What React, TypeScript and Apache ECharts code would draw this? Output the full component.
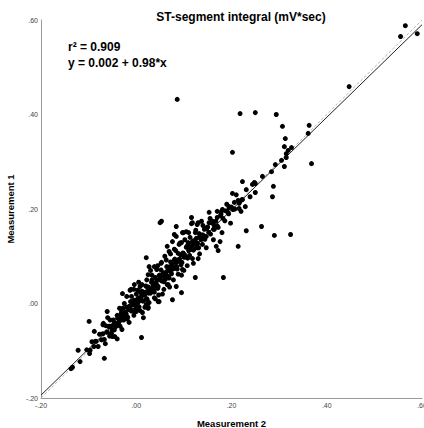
import React, { useEffect, useRef } from "react";
import * as echarts from "echarts";

const title = "ST-segment integral (mV*sec)";
const xName = "Measurement 2";
const yName = "Measurement 1";
const r2Text = "r\u00b2 = 0.909";
const fitText = "y = 0.002 + 0.98*x";
const intercept = 0.002;
const slope = 0.98;
const axisMin = -0.2;
const axisMax = 0.6;
const axisStep = 0.2;

// scattered / outlying points
const outerPoints: number[][] = [
  [0.565, 0.588], [0.555, 0.565], [0.590, 0.571], [0.447, 0.459], [0.086, 0.432],
  [0.218, 0.402], [0.250, 0.404], [0.294, 0.400], [0.307, 0.375], [0.363, 0.377],
  [0.361, 0.360], [0.313, 0.349], [0.311, 0.332], [0.326, 0.330], [0.319, 0.324],
  [0.315, 0.317], [0.315, 0.309], [0.305, 0.303], [0.292, 0.294], [0.311, 0.290],
  [0.368, 0.296], [0.284, 0.279], [0.265, 0.269], [0.223, 0.258], [0.250, 0.254],
  [0.244, 0.252], [0.288, 0.248], [0.231, 0.241], [0.250, 0.235], [0.239, 0.226],
  [0.286, 0.226], [0.223, 0.220], [0.218, 0.216], [0.229, 0.205], [0.216, 0.201],
  [0.231, 0.154], [0.263, 0.163], [0.290, 0.144], [0.324, 0.146], [0.248, 0.256],
  [0.202, 0.320], [0.202, 0.233], [0.206, 0.214], [0.195, 0.205], [0.216, 0.212],
  [0.181, 0.199], [0.179, 0.195], [0.191, 0.195], [0.153, 0.193], [0.053, 0.174],
  [0.116, 0.182], [0.118, 0.171], [0.137, 0.174], [0.128, 0.167], [0.153, 0.171],
  [0.160, 0.174], [0.170, 0.182], [0.084, 0.163], [0.097, 0.150], [0.105, 0.152],
  [0.080, 0.146], [0.176, 0.131], [0.065, 0.121], [0.214, 0.121], [0.168, 0.121],
  [0.172, 0.112], [0.143, 0.157], [0.149, 0.161], [0.164, 0.157], [0.147, 0.142],
  [0.132, 0.140], [0.118, 0.131], [0.126, 0.125], [0.111, 0.121], [0.139, 0.125],
  [0.124, 0.055], [0.183, 0.055], [0.050, 0.171], [0.116, 0.169], [0.130, 0.171],
  [0.099, 0.150], [0.084, 0.142], [0.124, 0.150], [0.076, 0.131], [0.095, 0.129],
  [0.109, 0.129], [0.120, 0.133], [0.069, 0.110], [0.021, 0.097], [0.053, 0.087],
  [0.027, 0.078], [0.038, 0.078], [0.025, 0.061], [-0.004, 0.040], [-0.029, 0.021],
  [-0.011, 0.030], [0.065, 0.040], [0.084, 0.036], [0.095, 0.023], [0.076, 0.008],
  [0.048, 0.004], [0.008, 0.036], [0.021, -0.002], [0.013, -0.019], [-0.015, -0.013],
  [0.000, -0.013], [-0.013, 0.028], [-0.061, -0.017], [-0.099, -0.038], [-0.069, -0.042],
  [-0.088, -0.059], [-0.050, -0.070], [-0.086, -0.080], [0.011, -0.072], [-0.122, -0.099],
  [-0.097, -0.099], [-0.067, -0.116], [-0.118, -0.123], [-0.137, -0.138], [-0.134, -0.135],
  [0.025, -0.008], [0.000, -0.017], [0.023, 0.008], [0.046, 0.004],
  [-0.020, 0.015], [0.005, 0.045], [0.030, 0.070], [0.060, 0.100], [0.090, 0.125],
  [0.040, 0.010], [0.070, 0.035], [0.100, 0.070], [-0.040, -0.075], [0.015, -0.030],
  [0.055, 0.020], [0.110, 0.150], [0.130, 0.095], [-0.060, -0.030], [0.080, 0.115],
  [0.045, 0.080], [0.120, 0.085], [-0.005, 0.030], [0.025, -0.010], [0.095, 0.060],
];

// dense band along the fit line
const bandPointsA: number[][] = [
  [-0.104, -0.098], [-0.098, -0.106], [-0.093, -0.081], [-0.089, -0.091], [-0.084, -0.080],
  [-0.080, -0.091], [-0.077, -0.065], [-0.073, -0.077], [-0.070, -0.064], [-0.067, -0.076],
  [-0.064, -0.047], [-0.061, -0.061], [-0.058, -0.049], [-0.056, -0.069], [-0.053, -0.048],
  [-0.051, -0.056], [-0.048, -0.035], [-0.046, -0.056], [-0.044, -0.041], [-0.042, -0.044],
  [-0.040, -0.025], [-0.038, -0.045], [-0.036, -0.029], [-0.034, -0.048], [-0.032, -0.022],
  [-0.030, -0.031], [-0.028, -0.010], [-0.026, -0.034], [-0.024, -0.020], [-0.022, -0.026],
  [-0.020, -0.008], [-0.018, -0.029], [-0.016, -0.009], [-0.014, -0.013], [-0.012, 0.004],
  [-0.010, -0.016], [-0.008, -0.003], [-0.006, -0.016], [-0.004, 0.007], [-0.002, -0.004],
  [0.000, 0.020], [0.002, -0.005], [0.004, 0.012], [0.006, -0.007], [0.008, 0.012],
  [0.010, 0.007], [0.012, 0.026], [0.014, 0.005], [0.016, 0.022], [0.018, 0.018],
  [0.020, 0.037], [0.022, 0.010], [0.024, 0.033], [0.026, 0.022], [0.028, 0.031],
  [0.030, 0.022], [0.032, 0.045], [0.034, 0.033], [0.036, 0.044], [0.038, 0.024],
  [0.040, 0.055], [0.042, 0.037], [0.044, 0.049], [0.046, 0.036], [0.048, 0.059],
  [0.050, 0.051], [0.052, 0.071], [0.054, 0.048], [0.056, 0.063], [0.058, 0.046],
  [0.060, 0.064], [0.062, 0.060], [0.064, 0.078], [0.066, 0.058], [0.068, 0.077],
  [0.070, 0.070], [0.072, 0.088], [0.074, 0.063], [0.076, 0.082], [0.078, 0.074],
  [0.080, 0.092], [0.082, 0.075], [0.084, 0.087], [0.086, 0.073], [0.088, 0.106],
  [0.090, 0.089], [0.093, 0.103], [0.096, 0.087], [0.099, 0.106], [0.102, 0.098],
  [0.105, 0.119], [0.108, 0.096], [0.111, 0.116], [0.114, 0.114], [0.117, 0.129],
  [0.120, 0.113], [0.124, 0.132], [0.128, 0.118], [0.132, 0.148], [0.136, 0.135],
  [0.140, 0.145], [0.144, 0.136], [0.148, 0.159], [0.152, 0.151], [0.157, 0.171],
  [0.162, 0.157], [0.167, 0.174], [0.172, 0.161], [0.177, 0.186], [0.182, 0.180],
  [0.188, 0.196], [0.194, 0.190], [0.200, 0.204], [0.207, 0.200], [0.214, 0.218],
  [0.222, 0.220],
];

const bandPointsB: number[][] = [
  [-0.062, -0.060], [-0.057, -0.048], [-0.052, -0.063], [-0.047, -0.043], [-0.043, -0.049],
  [-0.039, -0.031], [-0.035, -0.037], [-0.031, -0.018], [-0.027, -0.035], [-0.023, -0.018],
  [-0.019, -0.033], [-0.015, -0.006], [-0.011, -0.014], [-0.007, 0.005], [-0.003, -0.013],
  [0.001, 0.007], [0.005, 0.004], [0.009, 0.023], [0.013, 0.006], [0.017, 0.020],
  [0.021, 0.009], [0.025, 0.035], [0.029, 0.025], [0.033, 0.050], [0.037, 0.028],
  [0.041, 0.043], [0.045, 0.032], [0.049, 0.060], [0.053, 0.048], [0.057, 0.065],
  [0.061, 0.051], [0.065, 0.068], [0.069, 0.054], [0.073, 0.079], [0.077, 0.076],
  [0.081, 0.094], [0.085, 0.078], [0.089, 0.093], [0.094, 0.082], [0.098, 0.107],
  [0.103, 0.100], [0.107, 0.122], [0.112, 0.102], [0.116, 0.118], [0.121, 0.115],
  [0.126, 0.138], [0.131, 0.118], [0.137, 0.145], [0.143, 0.141], [0.150, 0.162],
  [0.156, 0.147], [0.163, 0.166], [0.170, 0.164], [0.178, 0.189], [0.186, 0.175],
  [0.195, 0.203], [0.203, 0.199],
];

const bandPointsC: number[][] = [
  [-0.070, -0.045], [-0.065, -0.085], [-0.055, -0.035], [-0.045, -0.070], [-0.035, -0.010],
  [-0.030, -0.055], [-0.025, 0.000], [-0.015, -0.040], [-0.010, 0.015], [-0.005, -0.025],
  [0.003, 0.028], [0.008, -0.015], [0.012, 0.040], [0.018, -0.008], [0.022, 0.050],
  [0.027, 0.002], [0.033, 0.060], [0.038, 0.012], [0.043, 0.072], [0.047, 0.018],
  [0.052, 0.085], [0.058, 0.030], [0.063, 0.092], [0.067, 0.040], [0.072, 0.105],
  [0.078, 0.050], [0.083, 0.112], [0.088, 0.062], [0.092, 0.128], [0.097, 0.072],
  [0.102, 0.135], [0.107, 0.080], [0.113, 0.140], [0.118, 0.095], [0.125, 0.155],
  [0.133, 0.105], [0.140, 0.165], [0.147, 0.118], [0.155, 0.180], [0.162, 0.135],
  [0.170, 0.195], [0.180, 0.150], [0.190, 0.210], [0.198, 0.170], [0.210, 0.230],
  [0.220, 0.195],
  [-0.045, -0.047], [-0.037, -0.040], [-0.029, -0.026], [-0.021, -0.022], [-0.013, -0.008],
  [-0.005, -0.002], [0.003, 0.001], [0.011, 0.015], [0.019, 0.024], [0.027, 0.028],
  [0.035, 0.038], [0.043, 0.040], [0.051, 0.056], [0.059, 0.058], [0.067, 0.072],
  [0.075, 0.072], [0.083, 0.088], [0.091, 0.094], [0.100, 0.098], [0.110, 0.112],
  [0.119, 0.124], [0.129, 0.127], [0.139, 0.140],
];

const fmt = (v: number) => {
  const s = Math.abs(v).toFixed(2).replace(/^0/, "");
  return v < -1e-9 ? "-" + s : s;
};

export default function App() {
  const ref = useRef<HTMLDivElement>(null);
  useEffect(() => {
    if (!ref.current) return;
    const chart = echarts.init(ref.current, null, { renderer: "svg" });
    const fitLine = [
      [axisMin, intercept + slope * axisMin],
      [axisMax, intercept + slope * axisMax],
    ];
    const idLine = [
      [axisMin, axisMin],
      [axisMax, axisMax],
    ];
    const axisCommon = {
      type: "value",
      min: axisMin,
      max: axisMax,
      interval: axisStep,
      splitLine: { show: false },
      axisTick: { show: false },
      axisLine: { show: true, onZero: false, lineStyle: { color: "#9a9a9a", width: 1 } },
      axisLabel: {
        fontSize: 7,
        color: "#444",
        fontFamily: "Liberation Sans, Arial, sans-serif",
        formatter: (v: number) => fmt(v),
      },
    };
    chart.setOption({
      animation: false,
      backgroundColor: "#fff",
      title: {
        text: title,
        left: 236,
        textAlign: "center",
        top: 6,
        textStyle: {
          fontSize: 12,
          fontWeight: "bold",
          color: "#000",
          fontFamily: "Liberation Sans, Arial, sans-serif",
        },
      },
      grid: {
        left: 41,
        right: 2,
        top: 20,
        bottom: 30,
        containLabel: false,
        outerBoundsMode: "none",
      },
      xAxis: {
        ...axisCommon,
        name: xName,
        nameLocation: "middle",
        nameGap: 20,
        nameTextStyle: {
          fontSize: 9.5,
          fontWeight: "bold",
          color: "#000",
          fontFamily: "Liberation Sans, Arial, sans-serif",
        },
        axisLabel: { ...axisCommon.axisLabel, margin: 4 },
      },
      yAxis: {
        ...axisCommon,
        name: yName,
        nameLocation: "middle",
        nameGap: 22,
        nameRotate: 90,
        nameTextStyle: {
          fontSize: 9.5,
          fontWeight: "bold",
          color: "#000",
          fontFamily: "Liberation Sans, Arial, sans-serif",
        },
        axisLabel: { ...axisCommon.axisLabel, margin: 3 },
      },
      graphic: [
        {
          type: "text",
          left: 68,
          top: 41,
          style: {
            text: r2Text,
            font: "bold 12px 'Liberation Sans', Arial, sans-serif",
            fill: "#000",
          },
        },
        {
          type: "text",
          left: 68,
          top: 57,
          style: {
            text: fitText,
            font: "bold 12px 'Liberation Sans', Arial, sans-serif",
            fill: "#000",
          },
        },
      ],
      series: [
        {
          type: "line",
          data: idLine,
          showSymbol: false,
          symbol: "none",
          lineStyle: { color: "#b5b5b5", width: 1, type: [3, 2] },
          z: 1,
          silent: true,
        },
        {
          type: "line",
          data: fitLine,
          showSymbol: false,
          symbol: "none",
          lineStyle: { color: "#222", width: 1 },
          z: 2,
          silent: true,
        },
        {
          type: "scatter",
          data: [...bandPointsA, ...bandPointsB, ...bandPointsC, ...outerPoints],
          symbolSize: 5,
          itemStyle: { color: "#000", opacity: 1 },
          z: 3,
        },
      ],
    });
    return () => chart.dispose();
  }, []);
  return <div ref={ref} style={{ width: 424, height: 428, position: "absolute", left: 0, top: 0 }} />;
}
